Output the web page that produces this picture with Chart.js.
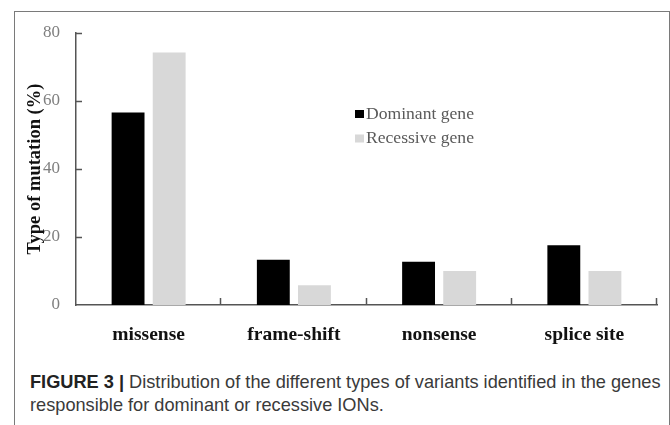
<!DOCTYPE html>
<html>
<head>
<meta charset="utf-8">
<script src="https://cdn.jsdelivr.net/npm/chart.js@4"></script>
<style>
  html, body { margin: 0; padding: 0; background: #fff; }
  body { width: 670px; height: 425px; position: relative; overflow: hidden; }
  #frame {
    position: absolute; left: 14px; top: 11px; width: 654px; height: 430px;
    border: 1px solid #7a7a7a; border-bottom: none;
  }
  #chart { position: absolute; left: 0; top: 0; }
  #caption {
    position: absolute; left: 30px; top: 371px; width: 636px;
    font-family: "Liberation Sans", Arial, sans-serif; font-size: 18.2px;
    line-height: 23px; color: #3a3a3a; white-space: nowrap;
  }
  #caption b { color: #222; }
</style>
</head>
<body>
<div id="frame"></div>
<canvas id="chart" width="670" height="360"></canvas>
<div id="caption"><b>FIGURE 3 |</b> Distribution of the different types of variants identified in the genes<br>responsible for dominant or recessive IONs.</div>
<script>
// values
const categories = ["missense", "frame-shift", "nonsense", "splice site"];
const dominantGene = [56.6, 13.3, 12.7, 17.6];
const recessiveGene = [74.3, 5.8, 10.0, 10.0];
const yTicks = [0, 20, 40, 60, 80];

const serif = '"Liberation Serif", "Times New Roman", serif';

// inward tick marks (Excel style) and the in-plot legend
const figureExtras = {
  id: "figureExtras",
  afterDatasetsDraw(chart) {
    const { ctx, chartArea: a, scales } = chart;
    ctx.save();
    ctx.strokeStyle = "#555";
    ctx.lineWidth = 1.5;
    ctx.beginPath();
    yTicks.forEach((v) => {
      if (v === 0) return;
      const y = Math.round(scales.y.getPixelForValue(v)) + 0.5;
      ctx.moveTo(a.left, y);
      ctx.lineTo(a.left + 6, y);
    });
    const step = (a.right - a.left) / categories.length;
    for (let i = 1; i <= categories.length; i++) {
      const x = Math.round(a.left + i * step) - 0.5;
      ctx.moveTo(x, a.bottom);
      ctx.lineTo(x, a.bottom - 7);
    }
    ctx.stroke();

    // legend
    ctx.font = "17.6px " + serif;
    ctx.textBaseline = "middle";
    chart.data.datasets.forEach((ds, i) => {
      const y = 114 + i * 24.5;
      ctx.fillStyle = ds.backgroundColor;
      ctx.fillRect(355, y - 4, 9, 8);
      ctx.fillStyle = "#5a5a5a";
      ctx.fillText(ds.label, 366, y);
    });
    ctx.restore();
  },
};

new Chart(document.getElementById("chart"), {
  type: "bar",
  data: {
    labels: categories,
    datasets: [
      {
        label: "Dominant gene",
        data: dominantGene,
        backgroundColor: "#000000",
        categoryPercentage: 0.566,
        barPercentage: 0.8,
      },
      {
        label: "Recessive gene",
        data: recessiveGene,
        backgroundColor: "#d8d8d8",
        categoryPercentage: 0.566,
        barPercentage: 0.8,
      },
    ],
  },
  options: {
    responsive: false,
    animation: false,
    layout: { padding: { left: 0, top: 33, right: 13, bottom: 0 } },
    plugins: {
      legend: { display: false },
      tooltip: { enabled: false },
    },
    scales: {
      x: {
        grid: { display: false, drawTicks: false },
        border: { display: true, color: "#555", width: 1.5 },
        ticks: {
          color: "#111",
          padding: 18,
          font: { family: serif, size: 19.5, weight: "bold" },
          maxRotation: 0,
        },
        afterFit: (scale) => { scale.height = 55; },
      },
      y: {
        min: 0,
        max: 80,
        grid: { display: false, drawTicks: false },
        border: { display: true, color: "#555", width: 1.5 },
        afterBuildTicks: (scale) => {
          scale.ticks = yTicks.map((v) => ({ value: v }));
        },
        ticks: {
          color: "#7f7f7f",
          padding: 16,
          font: { family: serif, size: 17 },
        },
        title: {
          display: true,
          text: "Type of mutation (%)",
          color: "#111",
          font: { family: serif, size: 18.5, weight: "bold" },
          padding: { top: 24, bottom: 0 },
        },
        afterFit: (scale) => { scale.width = 76; },
      },
    },
  },
  plugins: [figureExtras],
});
</script>
</body>
</html>
